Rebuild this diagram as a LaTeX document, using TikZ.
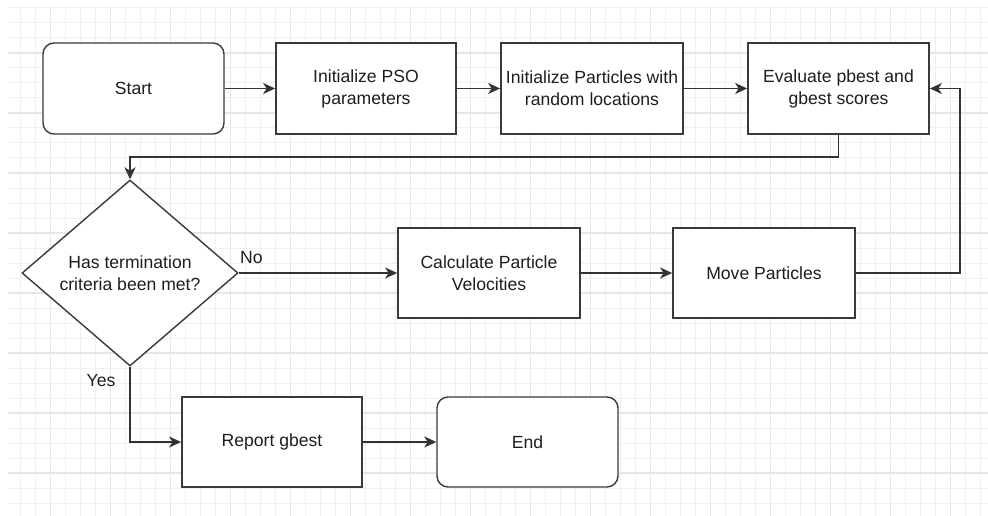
\documentclass[tikz,border=0pt]{standalone}
\usepackage{fontspec}
\setmainfont{Liberation Sans}
\usetikzlibrary{shapes.geometric,arrows.meta}
\definecolor{gridminor}{HTML}{F0F0F0}
\definecolor{gridmajor}{HTML}{E6E6E6}
\definecolor{boxline}{HTML}{3A3A3A}
\definecolor{wire}{HTML}{333333}
\definecolor{txt}{HTML}{1E1E1E}
\begin{document}
\begin{tikzpicture}[x=1pt,y=-1pt,
  lbl/.style={font=\fontsize{17.6}{22}\selectfont, text=txt},
  box/.style={lbl, draw=boxline, line width=1.8pt, fill=white,
    minimum width=181pt, minimum height=91pt, inner sep=2pt, align=center},
  term/.style={box, rounded corners=11pt, line width=1.4pt},
  decision/.style={lbl, diamond, aspect=1.16, draw=boxline, line width=1.4pt,
    fill=white, minimum width=216pt, minimum height=186pt, inner sep=0pt, align=center},
  arr/.style={draw=wire, line width=1.5pt,
    -{Stealth[length=12pt,width=11pt,inset=3.5pt]}},
]
% canvas and background grid
\fill[white] (0,0) rectangle (988,516);
\begin{scope}
  \clip (8,7) rectangle (988,516);
  \foreach \k in {0,...,64} {
    \pgfmathtruncatemacro{\m}{mod(\k+2,4)}
    \ifnum\m=0
      \draw[gridmajor, line width=1.1pt] (20.7+15*\k,7) -- (20.7+15*\k,516);
    \else
      \draw[gridminor, line width=1pt] (20.7+15*\k,7) -- (20.7+15*\k,516);
    \fi
  }
  \foreach \k in {0,...,34} {
    \pgfmathtruncatemacro{\m}{mod(\k+1,4)}
    \ifnum\m=0
      \draw[gridmajor, line width=1.1pt] (8,8+15*\k) -- (988,8+15*\k);
    \else
      \draw[gridminor, line width=1pt] (8,8+15*\k) -- (988,8+15*\k);
    \fi
  }
\end{scope}

% top row
\node[term] (start) at (133.5,88.5) {Start};
\node[box, minimum width=180pt] (pso) at (366,88.5) {Initialize PSO\\parameters};
\node[box, minimum width=182pt] (init) at (592,88.5) {Initialize Particles with\\random locations};
\node[box] (eval) at (838.5,88.5) {Evaluate pbest and\\gbest scores};

% middle row
\node[decision] (dec) at (130,273) {Has termination\\criteria been met?};
\node[box, minimum width=182pt, minimum height=90pt] (calc) at (489,273) {Calculate Particle\\Velocities};
\node[box, minimum width=182pt, minimum height=90pt] (move) at (764,273) {Move Particles};

% bottom row
\node[box, minimum width=180pt, minimum height=90pt] (report) at (272,442) {Report gbest};
\node[term, minimum height=90pt] (end) at (527.5,442) {End};

% connectors
\draw[arr] (start) -- (pso);
\draw[arr] (pso) -- (init);
\draw[arr] (init) -- (eval);
\draw[arr] (eval.south) -- ++(0,22) -| (dec.north);
\draw[arr] (dec.east) -- node[lbl, pos=0.08, above=5pt] {No} (calc.west);
\draw[arr] (calc) -- (move);
\draw[arr] (move.east) -- ++(104,0) |- (eval.east);
\draw[arr] (dec.south) |- (report.west);
\draw[arr] (report) -- (end);
\node[lbl] (yes) at (101,381) {Yes};
\end{tikzpicture}
\end{document}
